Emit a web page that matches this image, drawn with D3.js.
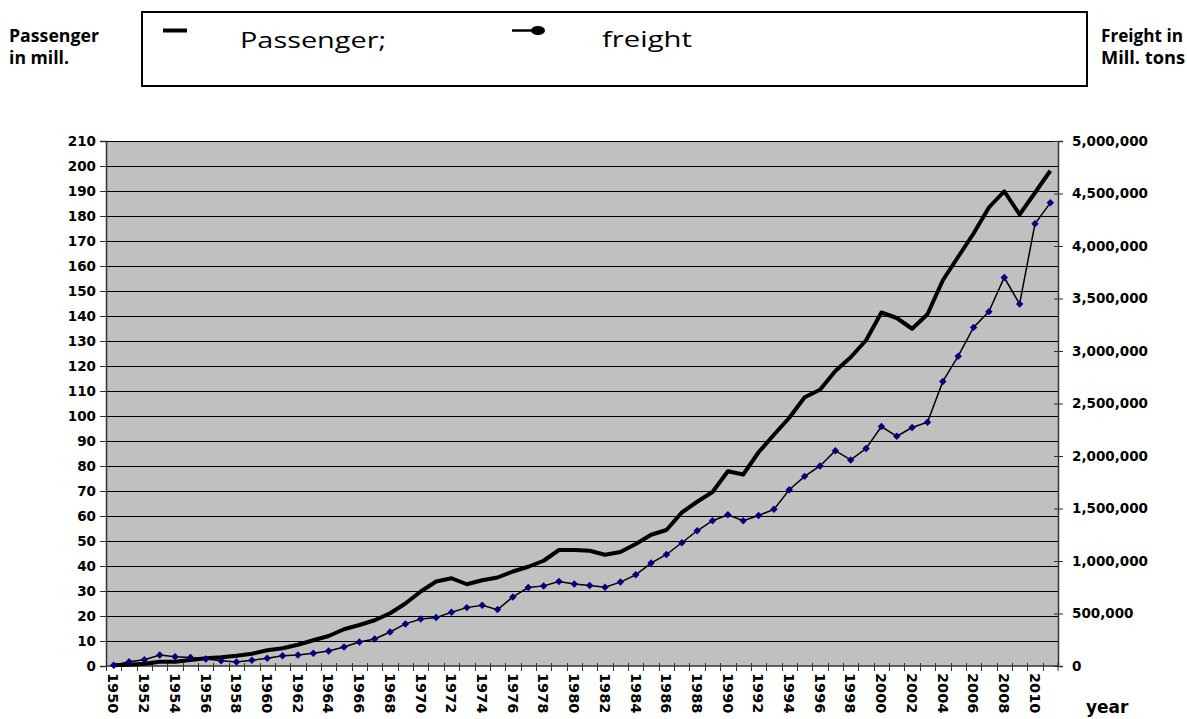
<!DOCTYPE html>
<html>
<head>
<meta charset="utf-8">
<script src="https://cdn.jsdelivr.net/npm/d3@7/dist/d3.min.js"></script>
<style>
  body { margin: 0; background: #fff; }
  svg { display: block; }
</style>
</head>
<body>
<div id="chart"></div>
<script>
var years = [1950, 1951, 1952, 1953, 1954, 1955, 1956, 1957, 1958, 1959,
             1960, 1961, 1962, 1963, 1964, 1965, 1966, 1967, 1968, 1969,
             1970, 1971, 1972, 1973, 1974, 1975, 1976, 1977, 1978, 1979,
             1980, 1981, 1982, 1983, 1984, 1985, 1986, 1987, 1988, 1989,
             1990, 1991, 1992, 1993, 1994, 1995, 1996, 1997, 1998, 1999,
             2000, 2001, 2002, 2003, 2004, 2005, 2006, 2007, 2008, 2009,
             2010, 2011];

// passengers in mill. (left axis)
var passenger = [0.3, 0.5, 0.9, 1.7, 1.7, 2.4, 3.1, 3.5, 4.1, 4.9,
                 6.3, 7.1, 8.5, 10.3, 12.0, 14.7, 16.4, 18.3, 21.1, 25.0,
                 29.8, 33.8, 35.1, 32.7, 34.3, 35.4, 37.8, 39.7, 42.1, 46.4,
                 46.4, 46.1, 44.5, 45.6, 48.8, 52.5, 54.4, 61.4, 65.7, 69.6,
                 77.9, 76.6, 85.5, 92.5, 99.3, 107.5, 110.5, 118.0, 123.5, 130.3,
                 141.4, 139.2, 134.9, 140.7, 154.3, 163.7, 173.0, 183.4, 189.9, 180.6,
                 189.3, 198.1];

// freight (right axis)
var freight = [7000, 41000, 60000, 105000, 88000, 81000, 67000, 51000, 38000, 54000,
               73000, 98000, 105000, 121000, 143000, 181000, 229000, 258000, 324000, 401000,
               448000, 461000, 512000, 556000, 579000, 537000, 658000, 747000, 763000, 804000,
               780000, 766000, 751000, 799000, 868000, 980000, 1062000, 1174000, 1288000, 1384000,
               1441000, 1384000, 1434000, 1492000, 1679000, 1806000, 1905000, 2051000, 1963000, 2071000,
               2281000, 2188000, 2271000, 2322000, 2710000, 2951000, 3225000, 3375000, 3700000, 3448000,
               4211000, 4411000];

var leftTicks = [0, 10, 20, 30, 40, 50, 60, 70, 80, 90, 100, 110, 120, 130, 140,
                 150, 160, 170, 180, 190, 200, 210];
var rightTicks = [0, 500000, 1000000, 1500000, 2000000, 2500000, 3000000,
                  3500000, 4000000, 4500000, 5000000];
var yearLabels = [1950, 1952, 1954, 1956, 1958, 1960, 1962, 1964, 1966, 1968,
                  1970, 1972, 1974, 1976, 1978, 1980, 1982, 1984, 1986, 1988,
                  1990, 1992, 1994, 1996, 1998, 2000, 2002, 2004, 2006, 2008, 2010];

var W = 1187, H = 719;
var plot = {left: 106, right: 1058, top: 141, bottom: 666};
var tickFont = "'DejaVu Sans', Verdana, sans-serif";
var titleFont = "'Open Sans', 'Noto Sans', sans-serif";

var svg = d3.select("#chart").append("svg")
    .attr("width", W)
    .attr("height", H);

var x = d3.scaleBand().domain(years).range([plot.left, plot.right]).padding(0);
var yL = d3.scaleLinear().domain([0, 210]).range([plot.bottom, plot.top]);
var yR = d3.scaleLinear().domain([0, 5000000]).range([plot.bottom, plot.top]);
var cx = function (d) { return x(d) + x.bandwidth() / 2; };

// plot background
svg.append("rect")
    .attr("x", plot.left).attr("y", plot.top)
    .attr("width", plot.right - plot.left)
    .attr("height", plot.bottom - plot.top)
    .attr("fill", "#c0c0c0");

// gridlines
svg.append("g").selectAll("line")
    .data(leftTicks.slice(1))
    .enter().append("line")
    .attr("x1", plot.left).attr("x2", plot.right)
    .attr("y1", function (d) { return Math.round(yL(d)) + 0.5; })
    .attr("y2", function (d) { return Math.round(yL(d)) + 0.5; })
    .attr("stroke", "#000")
    .attr("stroke-width", 1.2);

// left axis
var gL = svg.append("g")
    .attr("transform", "translate(" + plot.left + ",0)")
    .call(d3.axisLeft(yL).tickValues(leftTicks).tickSize(6).tickPadding(4).tickFormat(d3.format("d")));

// right axis
var gR = svg.append("g")
    .attr("transform", "translate(" + plot.right + ",0)")
    .call(d3.axisRight(yR).tickValues(rightTicks).tickSize(5).tickPadding(9).tickFormat(d3.format(",")));

[gL, gR].forEach(function (g) {
    g.select(".domain").attr("stroke", "#333").attr("stroke-width", 1.5);
    g.selectAll(".tick line").attr("stroke", "#333");
    g.selectAll("text")
        .style("font-family", tickFont)
        .style("font-weight", "bold")
        .style("font-size", "13.5px")
        .attr("fill", "#000");
});
gR.selectAll(".tick line").attr("x1", -4);

// x axis
var gX = svg.append("g")
    .attr("transform", "translate(0," + plot.bottom + ")");
gX.append("line")
    .attr("x1", plot.left).attr("x2", plot.right)
    .attr("y1", 0).attr("y2", 0)
    .attr("stroke", "#333").attr("stroke-width", 1.5);
gX.selectAll(".cat-tick")
    .data(years.concat(["end"]))
    .enter().append("line")
    .attr("class", "cat-tick")
    .attr("x1", function (d) { return d === "end" ? plot.right : Math.round(x(d)) + 0.5; })
    .attr("x2", function (d) { return d === "end" ? plot.right : Math.round(x(d)) + 0.5; })
    .attr("y1", -3).attr("y2", 5)
    .attr("stroke", "#333");
gX.selectAll(".year-label")
    .data(yearLabels)
    .enter().append("text")
    .attr("class", "year-label")
    .attr("transform", function (d) { return "translate(" + cx(d) + ",7) rotate(90)"; })
    .attr("dy", "0.36em")
    .attr("text-anchor", "start")
    .style("font-family", tickFont)
    .style("font-weight", "bold")
    .style("font-size", "14.5px")
    .text(function (d) { return d; });

// passenger line
var passLine = d3.line()
    .x(function (d, i) { return cx(years[i]); })
    .y(function (d) { return yL(d); });

svg.append("path")
    .datum(passenger)
    .attr("d", passLine)
    .attr("fill", "none")
    .attr("stroke", "#000")
    .attr("stroke-width", 4)
    .attr("stroke-linejoin", "round");

// freight line
var freightLine = d3.line()
    .x(function (d, i) { return cx(years[i]); })
    .y(function (d) { return yR(d); });

svg.append("path")
    .datum(freight)
    .attr("d", freightLine)
    .attr("fill", "none")
    .attr("stroke", "#000")
    .attr("stroke-width", 1.5);

svg.append("g").selectAll("path")
    .data(freight)
    .enter().append("path")
    .attr("d", d3.symbol().type(d3.symbolSquare).size(28))
    .attr("transform", function (d, i) {
        return "translate(" + cx(years[i]) + "," + yR(d) + ") rotate(45)";
    })
    .attr("fill", "#000080");

// side titles
var sideTitle = function (lines, xPos, widths) {
    var t = svg.append("text")
        .style("font-family", titleFont)
        .style("font-weight", "bold")
        .style("font-size", "17px");
    lines.forEach(function (s, i) {
        t.append("tspan").attr("x", xPos).attr("y", 42 + i * 22)
            .attr("textLength", widths[i])
            .attr("lengthAdjust", "spacingAndGlyphs")
            .text(s);
    });
};
sideTitle(["Passenger", "in mill."], 9, [90, 60]);
sideTitle(["Freight in", "Mill. tons"], 1101, [82, 84]);

// legend
var legend = svg.append("g");
legend.append("rect")
    .attr("x", 142).attr("y", 12)
    .attr("width", 945).attr("height", 74)
    .attr("fill", "none")
    .attr("stroke", "#000")
    .attr("stroke-width", 2);
legend.append("line")
    .attr("x1", 163).attr("x2", 187)
    .attr("y1", 30.5).attr("y2", 30.5)
    .attr("stroke", "#000").attr("stroke-width", 4);
legend.append("text")
    .attr("x", 240).attr("y", 48)
    .attr("textLength", 146)
    .attr("lengthAdjust", "spacingAndGlyphs")
    .style("font-family", titleFont)
    .style("font-size", "22px")
    .text("Passenger;");
legend.append("line")
    .attr("x1", 512).attr("x2", 536)
    .attr("y1", 30.5).attr("y2", 30.5)
    .attr("stroke", "#000").attr("stroke-width", 2.5);
legend.append("ellipse")
    .attr("cx", 538).attr("cy", 30.5)
    .attr("rx", 7).attr("ry", 4.5)
    .attr("fill", "#000");
legend.append("text")
    .attr("x", 602).attr("y", 47)
    .attr("textLength", 90)
    .attr("lengthAdjust", "spacingAndGlyphs")
    .style("font-family", titleFont)
    .style("font-size", "22px")
    .text("freight");

// x axis title
svg.append("text")
    .attr("x", 1086).attr("y", 713)
    .style("font-family", tickFont)
    .style("font-weight", "bold")
    .style("font-size", "17px")
    .text("year");
</script>
</body>
</html>
